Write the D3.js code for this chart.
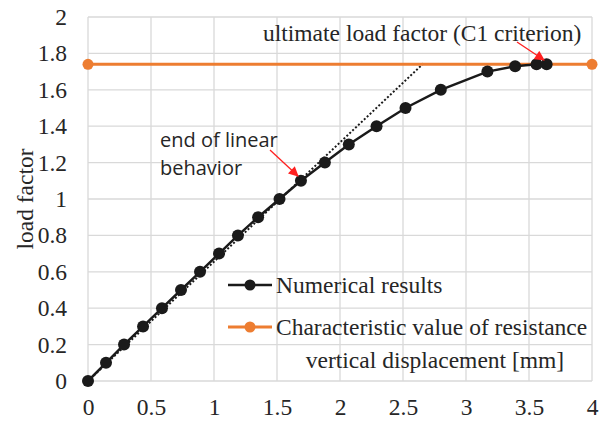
<!DOCTYPE html>
<html>
<head>
<meta charset="utf-8">
<script src="https://cdn.jsdelivr.net/npm/d3@7"></script>
<style>
body{margin:0;background:#fff;}
svg text{font-family:"Liberation Serif","Times New Roman",serif;fill:#262626;}
</style>
</head>
<body>
<svg id="svg" width="604" height="421"></svg>
<script>
var width=+d3.select("#svg").attr("width")
var height=+d3.select("#svg").attr("height")

// data
var dispValues=[0,0.143,0.286,0.437,0.587,0.738,0.889,1.04,1.19,1.35,1.52,1.69,1.88,2.07,2.29,2.52,2.8,3.17,3.39,3.56,3.64];
var loadValues=[0,0.1,0.2,0.3,0.4,0.5,0.6,0.7,0.8,0.9,1.0,1.1,1.2,1.3,1.4,1.5,1.6,1.7,1.73,1.74,1.74];
var charX=[0,4];
var charY=[1.74,1.74];
var linearX=[0,2.67];
var linearY=[0,1.75];
var xTicks=[0,0.5,1,1.5,2,2.5,3,3.5,4];
var yTicks=[0,0.2,0.4,0.6,0.8,1,1.2,1.4,1.6,1.8,2];
var seriesNames=["Numerical results","Characteristic value of resistance"];

var serif="Liberation Serif, Times New Roman, serif"
var sans="Open Sans, Liberation Sans, sans-serif"
var fs="23.5px"

var margin={left:88,right:12,top:17,bottom:40}
var svg=d3.select("#svg")

var x=d3.scaleLinear().domain([0,4]).range([margin.left,width-margin.right])
var y=d3.scaleLinear().domain([0,2]).range([height-margin.bottom,margin.top])

//gridlines
svg.append("g").selectAll("line").data(xTicks).enter().append("line")
    .attr("x1",d=>x(d)).attr("x2",d=>x(d))
    .attr("y1",y(0)).attr("y2",y(2))
    .style("stroke","#d9d9d9").style("stroke-width",1.3)
svg.append("g").selectAll("line").data(yTicks).enter().append("line")
    .attr("x1",x(0)).attr("x2",x(4))
    .attr("y1",d=>y(d)).attr("y2",d=>y(d))
    .style("stroke","#d9d9d9").style("stroke-width",1.3)

//axes
var xAxis=svg.append("g").attr("transform","translate(0,"+y(0)+")")
    .call(d3.axisBottom(x).tickValues(xTicks).tickSize(0).tickPadding(17).tickFormat(d3.format("")))
var yAxis=svg.append("g").attr("transform","translate("+x(0)+",0)")
    .call(d3.axisLeft(y).tickValues(yTicks).tickSize(0).tickPadding(21).tickFormat(d3.format("")))
svg.selectAll(".domain").remove()
xAxis.attr("font-family",serif).attr("font-size",fs)
yAxis.attr("font-family",serif).attr("font-size",fs)
svg.selectAll(".tick text").attr("fill","#262626")

svg.append("text")
    .attr("transform","translate(33,"+(y(1.0))+") rotate(-90)")
    .attr("text-anchor","middle")
    .style("font-size",fs)
    .text("load factor")

//dotted linear line
var line=d3.line().x(d=>x(d[0])).y(d=>y(d[1]))
svg.append("path")
    .datum(d3.zip(linearX,linearY))
    .attr("d",line)
    .style("fill","none").style("stroke","#1a1a1a").style("stroke-width",2).style("stroke-dasharray","2,2")

//characteristic value
svg.append("path")
    .datum(d3.zip(charX,charY))
    .attr("d",line)
    .style("fill","none").style("stroke","#ed7d31").style("stroke-width",3)
svg.append("g").selectAll("circle").data(d3.zip(charX,charY)).enter().append("circle")
    .attr("cx",d=>x(d[0])).attr("cy",d=>y(d[1])).attr("r",5.5)
    .style("fill","#ed7d31")

//numerical results
svg.append("path")
    .datum(d3.zip(dispValues,loadValues))
    .attr("d",line)
    .style("fill","none").style("stroke","#1a1a1a").style("stroke-width",2.5)
svg.append("g").selectAll("circle").data(d3.zip(dispValues,loadValues)).enter().append("circle")
    .attr("cx",d=>x(d[0])).attr("cy",d=>y(d[1])).attr("r",6)
    .style("fill","#1a1a1a")

//annotations
svg.append("defs").append("marker")
    .attr("id","arrow").attr("viewBox","0 0 10 10").attr("refX",9).attr("refY",5)
    .attr("markerUnits","userSpaceOnUse")
    .attr("markerWidth",11).attr("markerHeight",10).attr("orient","auto")
  .append("path").attr("d","M0,0L10,5L0,10z").style("fill","#ff2020")

svg.append("line").attr("x1",270).attr("y1",150).attr("x2",298).attr("y2",176)
    .style("stroke","#ff2020").style("stroke-width",1.3).attr("marker-end","url(#arrow)")
svg.append("line").attr("x1",517).attr("y1",42).attr("x2",544).attr("y2",60)
    .style("stroke","#ff2020").style("stroke-width",1.3).attr("marker-end","url(#arrow)")

svg.append("text").attr("x",160).attr("y",147)
    .style("font-family",sans).style("font-size","20px")
    .text("end of linear")
svg.append("text").attr("x",160).attr("y",175)
    .style("font-family",sans).style("font-size","20px")
    .text("behavior")
svg.append("text").attr("x",263).attr("y",41)
    .style("font-size",fs)
    .text("ultimate load factor (C1 criterion)")

//legend
var legendColors=["#1a1a1a","#ed7d31"]
var legendCell=svg.append("g").selectAll("g").data(seriesNames).enter().append("g")
    .attr("transform",(d,i)=>"translate(228,"+(285+i*42)+")")
legendCell.append("line").attr("x1",0).attr("x2",44)
    .style("stroke",(d,i)=>legendColors[i]).style("stroke-width",(d,i)=>i==0?2.5:3)
legendCell.append("circle").attr("cx",22).attr("r",5.5).style("fill",(d,i)=>legendColors[i])
legendCell.append("text").attr("x",48).attr("dy","0.35em")
    .style("font-size",fs)
    .text(d=>d)

svg.append("text").attr("x",435).attr("y",368)
    .attr("text-anchor","middle")
    .style("font-size",fs)
    .text("vertical displacement [mm]")
</script>
</body>
</html>
